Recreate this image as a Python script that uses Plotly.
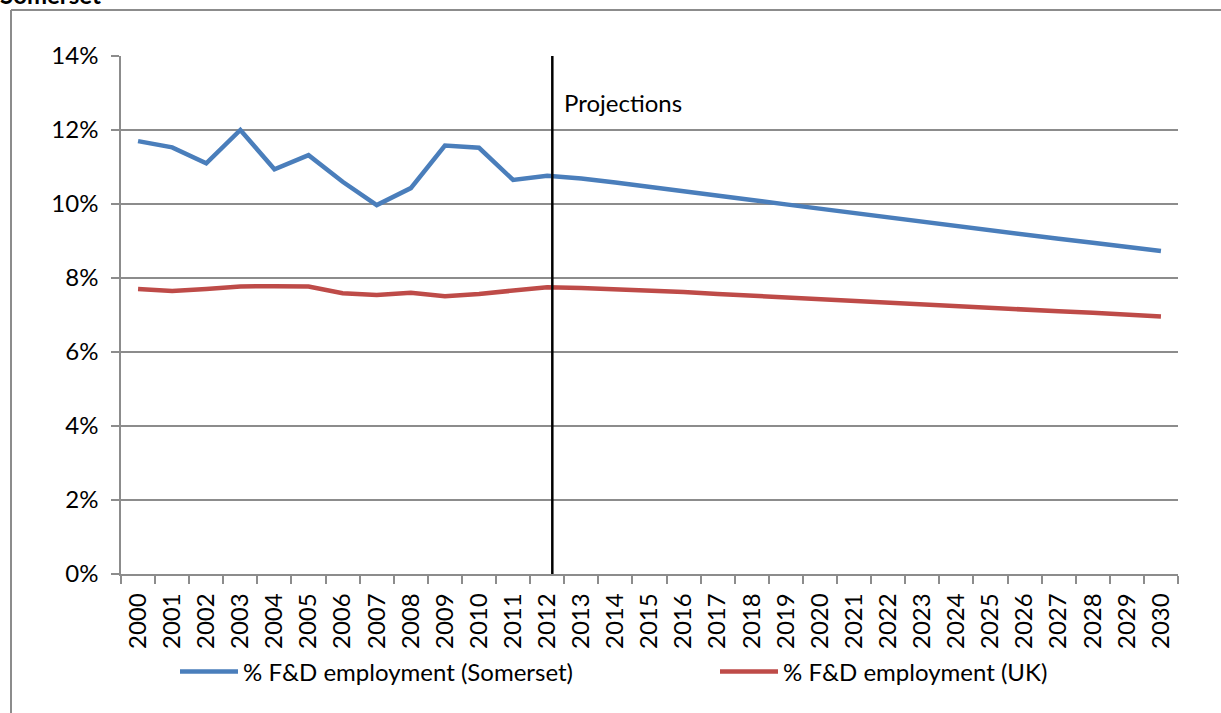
import plotly.graph_objects as go

years = [str(y) for y in range(2000, 2031)]
somerset = [11.70, 11.53, 11.10, 12.00, 10.94, 11.32, 10.60, 9.97, 10.43, 11.58, 11.52, 10.65, 10.76,
            10.69, 10.58, 10.47, 10.35, 10.23, 10.11, 9.99, 9.87, 9.75, 9.63, 9.51, 9.39, 9.28,
            9.17, 9.06, 8.95, 8.84, 8.73]
uk = [7.70, 7.65, 7.70, 7.77, 7.78, 7.77, 7.59, 7.54, 7.60, 7.51, 7.57, 7.65, 7.75,
      7.73, 7.70, 7.66, 7.62, 7.57, 7.52, 7.48, 7.43, 7.38, 7.33, 7.28, 7.24, 7.19,
      7.14, 7.10, 7.06, 7.02, 6.96]
somerset_frac = [v / 100 for v in somerset]
uk_frac = [v / 100 for v in uk]
projection_start = 12.15
y_ticks = [0, 0.02, 0.04, 0.06, 0.08, 0.10, 0.12, 0.14]
y_labels = ["0%", "2%", "4%", "6%", "8%", "10%", "12%", "14%"]

FONT = "Lato"
FS = 24
GRID = "#8c8c8c"

fig = go.Figure()
fig.add_trace(go.Scatter(x=years, y=somerset_frac, mode="lines", name="% F&D employment (Somerset)",
                         line=dict(color="#4A7EBB", width=4.5), legend="legend"))
fig.add_trace(go.Scatter(x=years, y=uk_frac, mode="lines", name="% F&D employment (UK)",
                         line=dict(color="#BE4B48", width=4.5), legend="legend2"))

W, H = 1221, 713
L, R, T, B = 121, 43, 56, 139
pw, ph = W - L - R, H - T - B

def px(xp):
    return (xp - L) / pw

def py(yp):
    return (H - B - yp) / ph

leg_common = dict(orientation="h", xanchor="left", y=py(672), yanchor="middle",
                  font=dict(size=FS, family=FONT), itemwidth=58, bgcolor="rgba(0,0,0,0)")

fig.update_layout(
    width=W, height=H,
    margin=dict(l=L, r=R, t=T, b=B),
    paper_bgcolor="white", plot_bgcolor="white",
    font=dict(family=FONT, size=FS, color="black"),
    showlegend=True,
    legend=dict(x=px(175), **leg_common),
    legend2=dict(x=px(715), **leg_common),
    xaxis=dict(type="category", tickson="boundaries", ticks="outside", ticklen=8, tickwidth=1.5,
               tickcolor=GRID, showline=True, linecolor=GRID, linewidth=1.5, showgrid=False,
               tickangle=-90, tickfont=dict(size=FS, family=FONT), range=[-0.5, 30.5],
               ticklabelstandoff=8),
    yaxis=dict(range=[0, 0.14], tickvals=y_ticks, ticktext=y_labels, ticks="outside", ticklen=8,
               tickwidth=1.5, tickcolor=GRID, showline=True, linecolor=GRID, linewidth=1.5,
               showgrid=True, gridcolor=GRID, gridwidth=1.5, zeroline=False,
               tickfont=dict(size=FS, family=FONT), ticklabelstandoff=8),
)

# vertical projections line
fig.add_shape(type="line", xref="x", yref="y", x0=projection_start, x1=projection_start,
              y0=0, y1=0.14, line=dict(color="black", width=2.5))
fig.add_annotation(xref="x", yref="y", x=projection_start, y=0.1275, text="Projections",
                   showarrow=False, xanchor="left", yanchor="middle", xshift=10,
                   font=dict(size=FS, family=FONT, color="black"))

# outer frame (chart area border)
fig.add_shape(type="line", xref="paper", yref="paper", x0=px(11), x1=px(1225), y0=py(10), y1=py(10),
              line=dict(color=GRID, width=2))
fig.add_shape(type="line", xref="paper", yref="paper", x0=px(11), x1=px(11), y0=py(10), y1=py(720),
              line=dict(color=GRID, width=2))

# clipped title
fig.add_annotation(xref="paper", yref="paper", x=px(-2), y=py(11), text="<b>Somerset</b>",
                   showarrow=False, xanchor="left", yanchor="bottom",
                   font=dict(size=24, family=FONT, color="black"))

fig.write_html("out.html", config={"displayModeBar": False},
               post_script="document.body.style.margin='0';")
